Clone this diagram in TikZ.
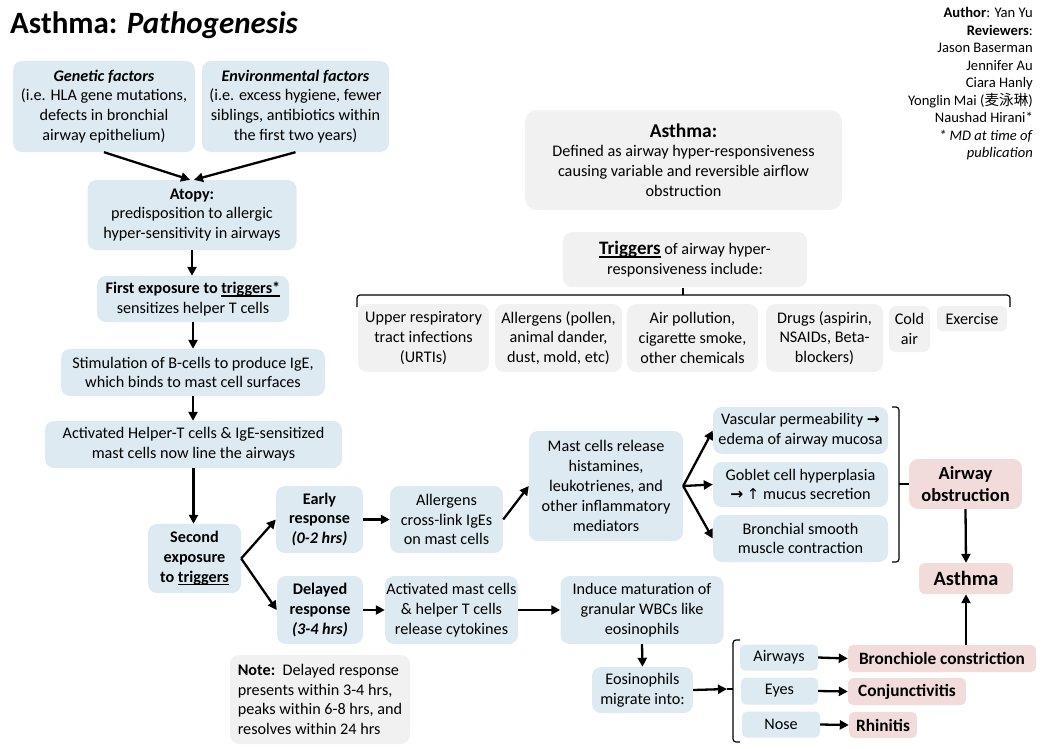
\documentclass[tikz,border=0pt]{standalone}
\usepackage{fontspec}
\setmainfont{Carlito}
\newfontfamily\cjkf{Noto Sans CJK SC}
\newfontfamily\symf{DejaVu Sans}
\usetikzlibrary{arrows.meta}
\definecolor{bluebg}{RGB}{221,234,241}
\definecolor{graybg}{RGB}{241,241,241}
\definecolor{pinkbg}{RGB}{241,219,219}
\newcommand\bodyf{\fontsize{16.2}{19.8}\selectfont}
\newcommand\pinkf{\fontsize{17.3}{21}\selectfont\bfseries}
\newcommand\myul[1]{\setbox0=\hbox{#1}\rlap{\vrule height -1.5pt depth 3pt width \wd0}\box0}
\newcommand\rar{{\symf\bfseries\fontsize{15.5}{15}\selectfont →}}
\newcommand\uar{{\symf\fontsize{15}{15}\selectfont ↑}}
\tikzset{
 box/.style={rounded corners=9pt, align=center, inner sep=0pt, font=\bodyf, text=black},
 bl/.style={box, fill=bluebg},
 gr/.style={box, fill=graybg},
 pk/.style={box, fill=pinkbg, font=\pinkf},
 sz/.style 2 args={minimum width=#1pt, minimum height=#2pt},
 arr/.style={line width=2.3pt, -{Triangle[length=9pt,width=9pt]}},
 brk/.style={line width=1.2pt, rounded corners=3pt}}
\begin{document}
\begin{tikzpicture}[x=1pt,y=-1pt]
\useasboundingbox (0,0) rectangle (1047,748);

% title
\node[anchor=base west, inner sep=0pt] (title) at (10,33) {\fontsize{31}{31}\selectfont\bfseries Asthma: \textit{Pathogenesis}};

% author block
\node[anchor=north east, inner sep=0pt, align=right, font=\fontsize{14.6}{17.5}\selectfont] (author) at (1033,7.5)
 {\textbf{Author}: Yan Yu\\\textbf{Reviewers}:\\Jason Baserman\\Jennifer Au\\Ciara Hanly\\Yonglin Mai ({\cjkf 麦泳琳})\\Naushad Hirani*\\\textit{* MD at time of}\\\textit{publication}};

% left column
\node[bl, sz={182}{91}] (gen) at (104,106.5) {\textbf{\textit{Genetic factors}}\\(i.e. HLA gene mutations,\\defects in bronchial\\airway epithelium)};
\node[bl, sz={187}{91}] (env) at (295.5,106.5) {\textbf{\textit{Environmental factors}}\\(i.e. excess hygiene, fewer\\siblings, antibiotics within\\the first two years)};
\node[bl, sz={209}{70}] (atopy) at (192,215) {\textbf{Atopy:}\\predisposition to allergic\\hyper-sensitivity in airways};
\node[bl, sz={192}{46}] (first) at (193,299) {\textbf{First exposure to \myul{triggers*}}\\sensitizes helper T cells};
\node[bl, sz={264}{47}] (stim) at (193,372.5) {Stimulation of B-cells to produce IgE,\\which binds to mast cell surfaces};
\node[bl, sz={297}{47}] (act) at (193.5,444.5) {Activated Helper-T cells \& IgE-sensitized\\mast cells now line the airways};
\node[bl, sz={93}{69}] (second) at (194.5,558.5) {\textbf{Second}\\\textbf{exposure}\\\textbf{to \myul{triggers}}};
\node[bl, sz={87}{67}] (early) at (319.5,519.5) {\textbf{Early}\\\textbf{response}\\\textbf{\textit{(0-2 hrs)}}};
\node[bl, sz={86}{68}] (delayed) at (320,610) {\textbf{Delayed}\\\textbf{response}\\\textbf{\textit{(3-4 hrs)}}};
\node[bl, sz={113}{67}] (allerg) at (446.5,519.5) {Allergens\\cross-link IgEs\\on mast cells};
\node[bl, sz={133}{68}] (actmast) at (451.5,610) {Activated mast cells\\\& helper T cells\\release cytokines};
\node[gr, sz={180}{89}, align=left] (note) at (320,699.5) {\textbf{Note:}\ \ Delayed response\\presents within 3-4 hrs,\\peaks within 6-8 hrs, and\\resolves within 24 hrs};

% middle
\node[bl, sz={154}{110}] (mast) at (606,486) {Mast cells release\\histamines,\\leukotrienes, and\\other inflammatory\\mediators};
\node[bl, sz={175}{47}] (vasc) at (800.5,430.5) {Vascular permeability \rar\\edema of airway mucosa};
\node[bl, sz={175}{45}] (gob) at (800.5,484.5) {Goblet cell hyperplasia\\\rar\ \uar\ mucus secretion};
\node[bl, sz={175}{47}] (bronch) at (800.5,538.5) {Bronchial smooth\\muscle contraction};
\node[pk, sz={113}{50}, font=\fontsize{18.5}{21.5}\selectfont\bfseries] (airobs) at (965.5,484) {Airway\\obstruction};
\node[pk, sz={94}{31}, font=\fontsize{20.3}{22}\selectfont\bfseries, rounded corners=6pt] (asthma) at (966,578.5) {Asthma};
\node[bl, sz={163}{68}] (induce) at (642,610) {Induce maturation of\\granular WBCs like\\eosinophils};
\node[bl, sz={101}{46}] (eos) at (642.5,690) {Eosinophils\\migrate into:};
\node[bl, sz={78}{26}, rounded corners=5pt] (airways) at (779,657.5) {Airways};
\node[bl, sz={77}{27}, rounded corners=5pt] (eyes) at (779.5,691) {Eyes};
\node[bl, sz={78}{26}, rounded corners=5pt] (nose) at (781,724.5) {Nose};
\node[pk, sz={188}{27}, rounded corners=5pt] (bronchc) at (942,658.5) {Bronchiole constriction};
\node[pk, sz={118}{27}, rounded corners=5pt] (conj) at (907,691.5) {Conjunctivitis};
\node[pk, sz={68}{26}, rounded corners=5pt] (rhin) at (883,725) {Rhinitis};

% top right
\node[gr, sz={317}{100}, rounded corners=12pt] (def) at (683.5,160) {{\fontsize{19.5}{22}\selectfont\textbf{Asthma:}}\\Defined as airway hyper-responsiveness\\causing variable and reversible airflow\\obstruction};
\node[gr, sz={244}{55}] (trig) at (685,259.5) {{\fontsize{19}{19}\selectfont\textbf{\myul{Triggers}}} of airway hyper-\\responsiveness include:};
\node[gr, sz={131}{68}] (t1) at (423.5,338) {Upper respiratory\\tract infections\\(URTIs)};
\node[gr, sz={127}{68}] (t2) at (558.5,338) {Allergens (pollen,\\animal dander,\\dust, mold, etc)};
\node[gr, sz={131}{68}] (t3) at (692.5,338) {Air pollution,\\cigarette smoke,\\other chemicals};
\node[gr, sz={117}{68}] (t4) at (824.5,338) {Drugs (aspirin,\\NSAIDs, Beta-\\blockers)};
\node[gr, sz={41}{46}, rounded corners=7pt] (t5) at (909.5,329) {Cold\\air};
\node[gr, sz={70}{25}, rounded corners=5pt] (t6) at (972,318.5) {Exercise};

% braces / brackets
\draw[brk] (357,307) -- (357,295) -- (1010,295) -- (1010,307);
\draw[line width=1.2pt] (683,295) -- (683,288);
\coordinate (rbk) at (899,484);
\draw[brk] (892,407) -- (899,407) -- (899,562) -- (892,562);
\draw[line width=1.2pt] (rbk) -- (airobs.west);
\coordinate (lbk) at (733,689);
\draw[brk] (740,640) -- (733,640) -- (733,742) -- (740,742);
\draw[line width=1.2pt] (lbk) -- ++(-6,0) coordinate (lbt);

% arrows
\draw[arr] (gen.south) -- ([xshift=-2pt]atopy.north);
\draw[arr] (env.south) -- ([xshift=2pt]atopy.north);
\draw[arr] (atopy.south) -- (atopy.south |- first.north);
\draw[arr] (first.south) -- (first.south |- stim.north);
\draw[arr] (stim.south) -- (stim.south |- act.north);
\draw[arr] (act.south) -- (act.south |- second.north);
\draw[arr] (second.east) -- (early.west);
\draw[arr] (second.east) -- (delayed.west);
\draw[arr] (early.east) -- (allerg.west);
\draw[arr] (delayed.east) -- (actmast.west);
\draw[arr] (allerg.east) -- (mast.west);
\draw[arr] (mast.east) -- (vasc.west);
\draw[arr] (mast.east) -- (gob.west);
\draw[arr] (mast.east) -- (bronch.west);
\draw[arr] (airobs.south) -- (asthma.north);
\draw[arr] (asthma.south |- bronchc.north) -- (asthma.south);
\draw[arr] (actmast.east) -- (induce.west);
\draw[arr] (induce.south) -- (eos.north);
\draw[arr] (eos.east) -- (lbt);
\draw[arr] (airways.east) -- (bronchc.west);
\draw[arr] (eyes.east) -- (conj.west);
\draw[arr] (nose.east) -- (rhin.west);
\end{tikzpicture}
\end{document}
